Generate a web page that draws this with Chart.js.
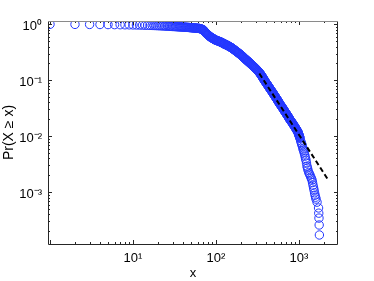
<!DOCTYPE html>
<html><head><meta charset="utf-8">
<script src="https://cdn.jsdelivr.net/npm/chart.js@4.4.1/dist/chart.umd.min.js"></script>
<style>html,body{margin:0;padding:0;background:#fff;}canvas{display:block;}</style>
</head><body>
<canvas id="c" width="374" height="281"></canvas>
<script>
// observed values x and empirical Pr(X >= x) (scatter, order does not matter)
const xValues = [1,2,3,4,5,6,7,8,9,10,11,12,13,14,15,16,17,18,19,20,21,22,23,24,25,26,27,28,29,30,
31,32,33,34,35,36,37,38,39,40,41,42,43,44,45,46,47,48,49,50,51,52,53,54,55,56,57,58,59,60,61,62,63,64,
66,68,70,71,72,73,74,75,76,78,80,83,85,87,90,92,95,97,101,104,108,112,115,118,122,125,128,132,136,139,143,147,
151,156,160,165,169,174,179,184,190,195,200,205,210,214,219,224,229,235,240,246,251,257,263,269,276,282,289,295,
302,310,317,324,332,339,345,352,358,364,370,377,383,389,397,406,414,422,431,439,447,457,466,476,485,495,504,514,
523,533,542,552,561,571,580,590,603,615,628,640,653,665,678,691,703,716,729,741,754,766,779,796,812,829,845,862,878,895,
911,926,942,957,973,984,995,1006,1017,1028,1045,1062,1075,1087,1103,1118,1134,1149,1165,1182,1198,1214,1231,1248,1265,1283,
1310,1335,1357,1385,1410,1435,1455,1475,1497,1517,1540,1560,1585,1604,1649,1720,1730,1740,1750,1760,
65,67,69,77,79,81,82,84,86,88,89,91,93,94,96,99,102,103,106,110,114,116,117,120,123,124,126,127,130,134,137,138,141,145,
149,153,155,158,162,167,171,176,181,187,192,197,202,207,212,216,221,226,232,237,243,248,254,260,266,272,279,285,292,298,
306,313,320,328,335,342,348,355,361,367,373,380,386,393,401,410,418,426,435,443,452,461,471,480,490,499,509,518,528,537,
547,556,566,575,585,596,609,621,634,646,659,671,684,697,709,722,735,747,760,772,787,804,820,837,853,870,886,903,918,934,
949,965,978,989,1000,1011,1022];
const ccdfValues = [1.000,0.997,0.994,0.992,0.989,0.986,0.983,0.980,0.978,0.975,0.972,0.969,0.966,0.963,0.960,0.957,0.954,0.951,0.948,0.945,
0.942,0.939,0.936,0.933,0.930,0.927,0.924,0.921,0.918,0.915,0.913,0.911,0.908,0.906,0.904,0.902,0.900,0.897,0.895,0.893,
0.891,0.889,0.886,0.884,0.882,0.880,0.878,0.875,0.873,0.871,0.869,0.867,0.864,0.862,0.860,0.858,0.856,0.853,0.851,0.849,
0.847,0.845,0.842,0.840,
0.826,0.812,0.798,0.780,0.762,0.744,0.726,0.708,0.690,0.670,0.649,0.618,0.598,0.586,0.569,0.557,0.540,0.529,0.518,0.508,0.498,0.487,
0.478,0.469,0.458,0.449,0.440,0.431,0.422,0.415,0.406,0.397,0.386,0.375,0.364,0.353,0.343,0.332,0.322,0.312,0.301,0.291,
0.283,0.274,0.266,0.258,0.250,0.242,0.235,0.228,0.221,0.214,0.208,0.201,0.195,0.189,0.183,0.178,0.172,0.167,
0.161,0.155,0.149,0.144,0.138,0.133,0.128,0.123,0.118,0.113,0.109,0.104,0.100,0.096,0.0919,0.0879,0.0841,0.0805,0.0770,0.0737,0.0705,
0.0675,0.0646,0.0618,0.0591,0.0566,0.0541,0.0518,0.0497,0.0477,0.0458,0.0440,0.0422,0.0405,0.0389,0.0373,
0.0357,0.0342,0.0327,0.0313,0.0299,0.0286,0.0274,0.0263,0.0252,0.0242,0.0233,0.0223,0.0214,0.0206,0.0197,
0.0189,0.0181,0.0173,0.0166,0.0158,0.0152,0.0145,0.0139,0.0134,0.0128,0.0123,0.0118,0.0112,0.0107,0.0102,0.0097,0.0092,
0.0083,0.0077,0.0073,0.0069,0.0064,0.0059,0.0056,0.0052,0.0048,0.0044,0.0040,0.0037,0.0033,0.0029,0.0027,0.00247,
0.00225,0.00212,0.00201,0.00186,0.00175,0.00164,0.00148,0.00133,0.00120,0.00109,0.00097,0.00088,0.00081,0.00075,0.00066,
0.00052,0.00042,0.000343,0.000258,0.000171,
0.833,0.819,0.805,0.680,0.660,0.639,0.628,0.608,0.592,0.580,0.575,0.563,0.551,0.546,0.535,0.523,0.515,0.511,0.503,0.492,
0.481,0.475,0.472,0.463,0.455,0.452,0.446,0.443,0.435,0.426,0.420,0.417,0.410,0.401,
0.391,0.382,0.377,0.369,0.359,0.348,0.339,0.327,0.317,0.306,0.296,0.287,0.279,0.270,0.262,0.254,0.246,0.238,0.231,0.224,
0.217,0.211,0.204,0.198,0.192,0.186,0.180,0.175,0.169,0.164,
0.158,0.152,0.146,0.141,0.135,0.130,0.125,0.120,0.115,0.111,0.106,0.102,0.098,0.0939,0.0899,0.0860,0.0823,0.0787,0.0753,0.0721,
0.0690,0.0660,0.0632,0.0604,0.0578,0.0553,0.0529,0.0507,0.0487,0.0467,
0.0449,0.0431,0.0413,0.0397,0.0381,0.0365,0.0349,0.0334,0.0320,0.0306,0.0292,0.0280,0.0268,0.0257,0.0247,0.0237,0.0228,0.0218,
0.0210,0.0201,0.0193,0.0185,0.0177,0.0169,0.0162,0.0155,0.0148,0.0142,0.0136,0.0131,
0.0125,0.0120,0.0115,0.0109,0.0104,0.0099,0.0094];
// power-law fit line end points
const fitX = [333, 2254];
const fitY = [0.132, 0.00164];
const xLimits = [0.946, 2950];
const yLimits = [1.18e-4, 1.146];
const xTickLabels = [10, 100, 1000];
const yTickLabels = [0.001, 0.01, 0.1, 1];
const xTitle = 'x';
const yTitle = 'Pr(X \u2265 x)';

const SUP = {'-':'\u207B','0':'\u2070','1':'\u00B9','2':'\u00B2','3':'\u00B3','4':'\u2074','5':'\u2075','6':'\u2076','7':'\u2077','8':'\u2078','9':'\u2079'};
function powLabel(v, list){
  const hit = list.find(t => Math.abs(Math.log10(v) - Math.log10(t)) < 1e-6);
  if (hit === undefined) return '';
  const r = Math.round(Math.log10(hit));
  return '10' + String(r).split('').map(c => SUP[c]).join('');
}
const FONT = '"Liberation Sans", Arial, sans-serif';

const boxPlugin = {
  id: 'boxTicks',
  afterDatasetsDraw(chart){
    const {ctx, chartArea:{left,right,top,bottom}, scales:{x,y}} = chart;
    ctx.save();
    ctx.lineWidth = 1;
    ctx.strokeStyle = '#262626';
    ctx.beginPath();
    for (let e = -6; e <= 5; e++){
      for (let m = 1; m <= 9; m++){
        const v = m * Math.pow(10, e);
        const len = m === 1 ? 4 : 2;
        if (v > x.min && v < x.max){
          const px = Math.round(x.getPixelForValue(v)) + 0.5;
          ctx.moveTo(px, bottom); ctx.lineTo(px, bottom - len);
          ctx.moveTo(px, top); ctx.lineTo(px, top + len);
        }
        if (v > y.min && v < y.max){
          const py = Math.round(y.getPixelForValue(v)) + 0.5;
          ctx.moveTo(left, py); ctx.lineTo(left + len, py);
          ctx.moveTo(right, py); ctx.lineTo(right - len, py);
        }
      }
    }
    ctx.stroke();
    ctx.strokeStyle = '#262626';
    ctx.beginPath();
    ctx.moveTo(left + 0.5, top); ctx.lineTo(left + 0.5, bottom + 0.5);
    ctx.lineTo(right - 0.5, bottom + 0.5); ctx.lineTo(right - 0.5, top);
    ctx.stroke();
    ctx.strokeStyle = '#8a8a8a';
    ctx.beginPath();
    ctx.moveTo(left, top + 0.5); ctx.lineTo(right, top + 0.5);
    ctx.stroke();
    ctx.restore();
  }
};

new Chart(document.getElementById('c'), {
  type: 'scatter',
  data: {
    datasets: [
      {
        label: 'fit',
        data: fitX.map((v, i) => ({x: v, y: fitY[i]})),
        showLine: true,
        borderColor: '#000',
        borderWidth: 2,
        borderDash: [5, 3],
        pointRadius: 0,
        fill: false
      },
      {
        label: 'data',
        data: xValues.map((v, i) => ({x: v, y: ccdfValues[i]})),
        pointStyle: 'circle',
        pointRadius: 4.2,
        borderWidth: 1,
        borderColor: 'rgb(35,55,255)',
        backgroundColor: 'rgba(0,0,0,0)',
        showLine: false
      }
    ]
  },
  options: {
    responsive: false,
    animation: false,
    devicePixelRatio: 1,
    layout: {padding: {top: 21, right: 36, left: 0, bottom: 0}},
    plugins: {legend: {display: false}, tooltip: {enabled: false}},
    scales: {
      x: {
        type: 'logarithmic',
        min: xLimits[0], max: xLimits[1],
        grid: {display: false, drawTicks: false},
        border: {display: false},
        title: {display: true, text: xTitle, color: '#000', font: {family: FONT, size: 13}, padding: {top: 0, bottom: 0}},
        ticks: {autoSkip: false, maxRotation: 0, padding: 7, color: '#000', font: {family: FONT, size: 13},
          callback: (v) => powLabel(v, xTickLabels)},
        afterFit: (s) => { s.height = 37; }
      },
      y: {
        type: 'logarithmic',
        min: yLimits[0], max: yLimits[1],
        grid: {display: false, drawTicks: false},
        border: {display: false},
        title: {display: true, text: yTitle, color: '#000', font: {family: FONT, size: 14}, padding: {top: 1, bottom: 0}},
        ticks: {autoSkip: false, padding: 6, labelOffset: 2, color: '#000', font: {family: FONT, size: 13},
          callback: (v) => powLabel(v, yTickLabels)},
        afterFit: (s) => { s.width = 48; }
      }
    }
  },
  plugins: [boxPlugin]
});
</script>
</body></html>
